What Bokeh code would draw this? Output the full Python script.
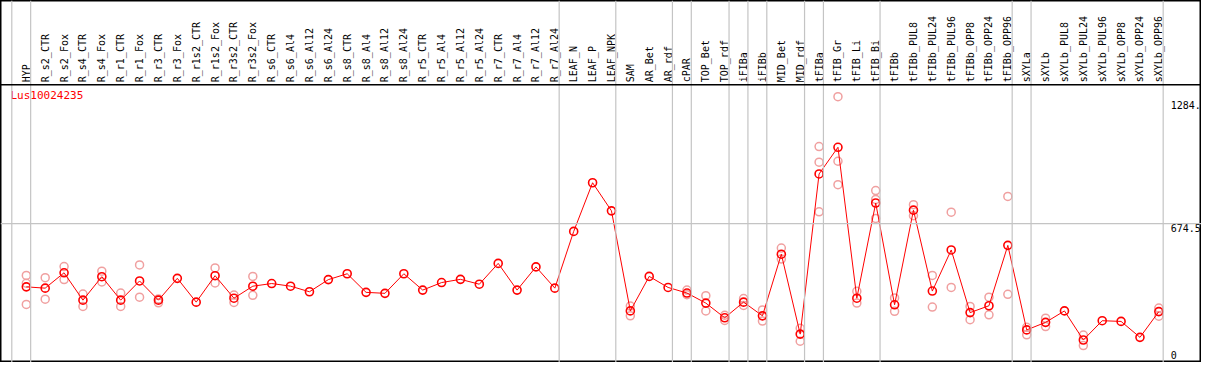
import math
from bokeh.plotting import figure
from bokeh.models import Range1d, Span
from bokeh.core.properties import value
from bokeh.embed import file_html
from bokeh.resources import INLINE

# ---------------- data ----------------
gene = "Lus10024235"

categories = [
    "HYP", "R_s2_CTR", "R_s2_Fox", "R_s4_CTR", "R_s4_Fox", "R_r1_CTR", "R_r1_Fox",
    "R_r3_CTR", "R_r3_Fox", "R_r1s2_CTR", "R_r1s2_Fox", "R_r3s2_CTR", "R_r3s2_Fox",
    "R_s6_CTR", "R_s6_Al4", "R_s6_Al12", "R_s6_Al24", "R_s8_CTR", "R_s8_Al4",
    "R_s8_Al12", "R_s8_Al24", "R_r5_CTR", "R_r5_Al4", "R_r5_Al12", "R_r5_Al24",
    "R_r7_CTR", "R_r7_Al4", "R_r7_Al12", "R_r7_Al24", "LEAF_N", "LEAF_P", "LEAF_NPK",
    "SAM", "AR_Bet", "AR_rdf", "cPAR", "TOP_Bet", "TOP_rdf", "iFIBa", "iFIBb",
    "MID_Bet", "MID_rdf", "tFIBa", "tFIB_Gr", "tFIB_Li", "tFIB_Bi", "tFIBb",
    "tFIBb_PUL8", "tFIBb_PUL24", "tFIBb_PUL96", "tFIBb_OPP8", "tFIBb_OPP24",
    "tFIBb_OPP96", "sXYLa", "sXYLb", "sXYLb_PUL8", "sXYLb_PUL24", "sXYLb_PUL96",
    "sXYLb_OPP8", "sXYLb_OPP24", "sXYLb_OPP96",
]

means = [
    338.8, 332.0, 413.5, 268.2, 392.7, 268.2, 370.0, 268.2, 384.0, 257.8,
    398.0, 278.6, 342.4, 356.4, 342.4, 312.8, 377.2, 408.3, 309.7, 304.5,
    408.3, 321.7, 361.6, 378.7, 352.8, 463.3, 321.7, 444.6, 332.0, 633.0,
    890.8, 741.9, 211.2, 394.3, 335.7, 306.1, 252.7, 174.8, 257.8, 185.2,
    512.0, 88.2, 937.5, 1079.0, 278.6, 783.4, 243.8, 745.5, 316.5, 534.4,
    202.3, 238.6, 558.8, 110.5, 150.5, 211.2, 57.1, 159.3, 155.6, 71.1, 207.5,
]

replicates = [
    [399.5, 358.0, 245.4], [387.5, 273.4], [446.2, 377.2], [301.0, 235.0],
    [421.8, 364.7], [306.0, 235.0], [455.0, 283.8], [275.0, 254.2], [], [],
    [439.4, 359.5], [295.7, 255.8], [394.3, 294.2], [], [], [], [], [], [], [],
    [], [], [], [], [], [], [], [], [], [],
    [], [], [237.1, 185.2], [], [], [321.7, 297.3], [292.1, 211.2],
    [188.3, 160.8], [276.5, 240.2], [216.3, 157.2],
    [544.7, 486.1], [119.3, 50.3], [1082.7, 999.7, 736.7], [1347.0, 1004.9, 880.4],
    [314.9, 252.7], [849.3, 802.6, 701.9], [280.2, 209.1], [774.6, 715.9],
    [399.5, 231.9], [735.1, 335.7],
    [235.0, 164.5], [283.8, 190.4], [818.2, 299.3], [124.5, 84.6], [172.8, 128.1],
    [], [83.0, 27.5], [], [], [], [226.7, 183.1],
]

tick_values = [1284, 674.5, 0]
tick_labels = ["1284.", "674.5", "0"]

# index of the last category in each group (-1 = left edge line)
group_last = [-1, 0, 28, 31, 34, 35, 37, 38, 39, 41, 42, 45, 52, 53, 60]

# ---------------- layout ----------------
W, H = 1201, 362
FONT = value("DejaVu Sans Mono")
HEADER_LINE = 1411.1     # separator between header and plot
HEADER_TEXT_Y = 1424.0   # start of the rotated labels
TICK_X = 60.63

p = figure(width=W, height=H, output_backend="svg", toolbar_location=None,
           x_range=Range1d(-1.368, 62.26), y_range=Range1d(-62.3, 1857.3),
           x_axis_location=None, y_axis_location=None,
           min_border=0, min_border_left=0, min_border_right=0,
           min_border_top=0, min_border_bottom=0,
           background_fill_color="white", border_fill_color="white")
p.grid.visible = False
p.outline_line_color = "black"
p.outline_line_width = 2

for g in group_last:
    p.add_layout(Span(location=g + 0.23, dimension="height",
                      line_color="#c4c4c4", line_width=1.2))

p.add_layout(Span(location=tick_values[1], dimension="width",
                  line_color="#c4c4c4", line_width=1.2))
p.add_layout(Span(location=HEADER_LINE, dimension="width",
                  line_color="black", line_width=1.5))

xs = list(range(len(categories)))

# header labels
p.text(x=xs, y=[HEADER_TEXT_Y] * len(xs), text=categories, angle=math.pi / 2,
       text_align="left", text_baseline="middle", text_font=FONT,
       text_font_size="10px", text_color="black")

# replicate points
rx, ry = [], []
for i, reps in enumerate(replicates):
    for r in reps:
        rx.append(i)
        ry.append(r)
p.scatter(rx, ry, marker="circle", size=8, fill_color=None,
          line_color="#f0a0a0", line_width=1.5)

# mean profile
p.line(xs, means, line_color="#ff0000", line_width=1)
p.scatter(xs, means, marker="circle", size=8, fill_color=None,
          line_color="#ff0000", line_width=1.6)

# gene label
p.text(x=[-0.842], y=[1388], text=[gene], text_align="left", text_baseline="top",
       text_font=FONT, text_font_size="11px", text_color="#ff0000")

# value labels on the right
p.text(x=[TICK_X], y=[tick_values[0]], text=[tick_labels[0]], text_align="left",
       text_baseline="bottom", text_font=FONT, text_font_size="10px", text_color="black")
p.text(x=[TICK_X, TICK_X], y=tick_values[1:], text=tick_labels[1:], text_align="left",
       text_baseline="top", text_font=FONT, text_font_size="10px", text_color="black")

open("out.html", "w").write(file_html(p, INLINE))
